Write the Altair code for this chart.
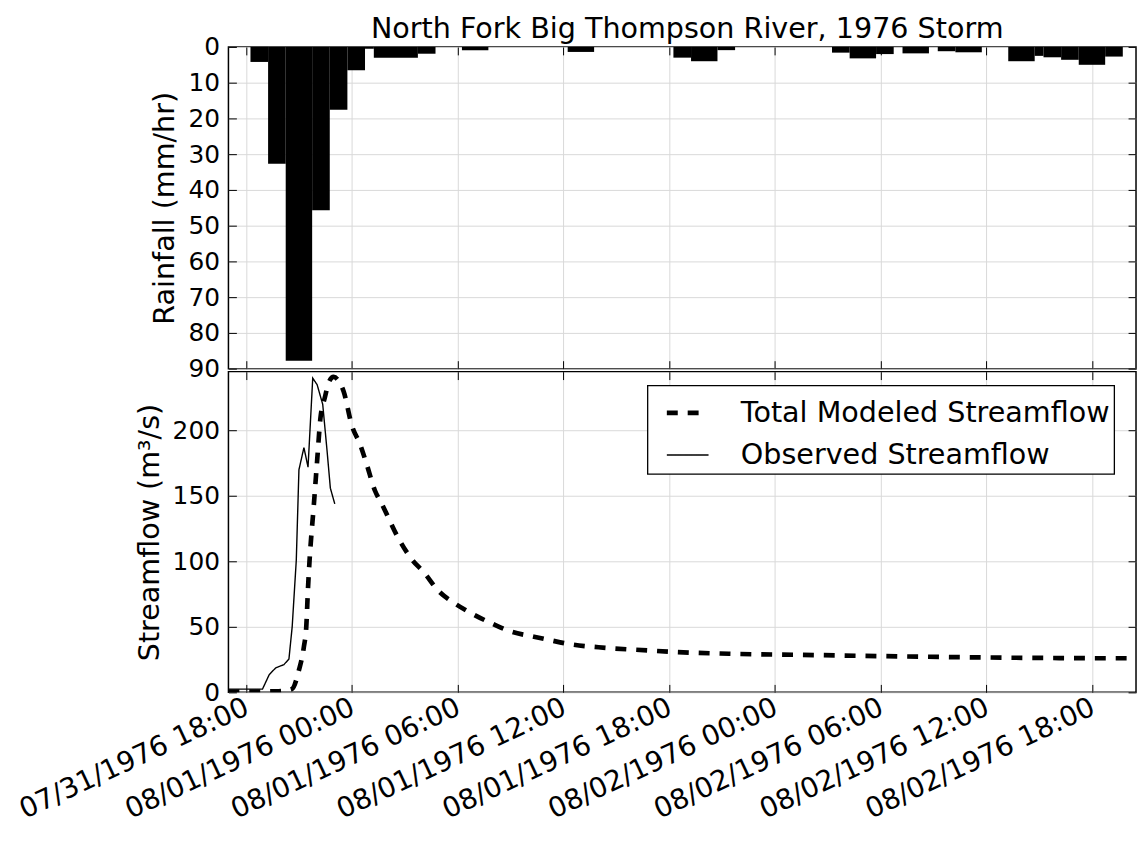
import altair as alt
import pandas as pd

FONT = "DejaVu Sans"
GRID = "#d9d9d9"

TITLE = "North Fork Big Thompson River, 1976 Storm"
SERIES = ["Total Modeled Streamflow", "Observed Streamflow"]

X_START = "1976-07-31T17:00"
X_END = "1976-08-02T20:30"
X_TICKS = ["1976-07-31T18:00", "1976-08-01T00:00", "1976-08-01T06:00",
           "1976-08-01T12:00", "1976-08-01T18:00", "1976-08-02T00:00",
           "1976-08-02T06:00", "1976-08-02T12:00", "1976-08-02T18:00"]
RAIN_TICKS = [0, 10, 20, 30, 40, 50, 60, 70, 80, 90]
FLOW_TICKS = [0, 50, 100, 150, 200]

RAIN_START = ["1976-07-31T18:15", "1976-07-31T19:15", "1976-07-31T20:15", "1976-07-31T21:45",
              "1976-07-31T22:45", "1976-07-31T23:45", "1976-08-01T00:45", "1976-08-01T01:15",
              "1976-08-01T03:45", "1976-08-01T06:15", "1976-08-01T12:15", "1976-08-01T18:15",
              "1976-08-01T19:15", "1976-08-01T20:45", "1976-08-02T03:15", "1976-08-02T04:15",
              "1976-08-02T05:45", "1976-08-02T07:15", "1976-08-02T09:15", "1976-08-02T10:15",
              "1976-08-02T13:15", "1976-08-02T14:45", "1976-08-02T15:15", "1976-08-02T16:15",
              "1976-08-02T17:15", "1976-08-02T18:45"]
RAIN_END = ["1976-07-31T19:15", "1976-07-31T20:15", "1976-07-31T21:45", "1976-07-31T22:45",
            "1976-07-31T23:45", "1976-08-01T00:45", "1976-08-01T01:15", "1976-08-01T03:45",
            "1976-08-01T04:45", "1976-08-01T07:45", "1976-08-01T13:45", "1976-08-01T19:15",
            "1976-08-01T20:45", "1976-08-01T21:45", "1976-08-02T04:15", "1976-08-02T05:45",
            "1976-08-02T06:45", "1976-08-02T08:45", "1976-08-02T10:15", "1976-08-02T11:45",
            "1976-08-02T14:45", "1976-08-02T15:15", "1976-08-02T16:15", "1976-08-02T17:15",
            "1976-08-02T18:45", "1976-08-02T19:45"]
RAIN_MM_HR = [4.2, 32.7, 87.8, 45.7, 17.6, 6.5, 0.5, 3.0, 1.9, 0.9, 1.4, 3.0, 4.0, 0.9,
              1.6, 3.2, 2.0, 1.8, 1.2, 1.5, 4.0, 2.5, 2.9, 3.6, 5.0, 2.7]

MODEL_TIME = ["1976-07-31T17:00", "1976-07-31T19:50", "1976-07-31T20:36", "1976-07-31T21:00",
              "1976-07-31T21:17", "1976-07-31T21:25", "1976-07-31T21:31", "1976-07-31T21:36",
              "1976-07-31T21:51", "1976-07-31T22:02", "1976-07-31T22:13", "1976-07-31T22:28",
              "1976-07-31T22:42", "1976-07-31T22:58", "1976-07-31T23:15", "1976-07-31T23:32",
              "1976-08-01T00:00", "1976-08-01T00:29", "1976-08-01T00:51", "1976-08-01T01:19",
              "1976-08-01T01:42", "1976-08-01T02:38", "1976-08-01T03:23", "1976-08-01T04:08",
              "1976-08-01T04:53", "1976-08-01T05:50", "1976-08-01T06:46", "1976-08-01T07:53",
              "1976-08-01T09:01", "1976-08-01T10:20", "1976-08-01T11:12", "1976-08-01T12:17",
              "1976-08-01T14:25", "1976-08-01T16:50", "1976-08-01T18:03", "1976-08-01T21:24",
              "1976-08-02T02:13", "1976-08-02T06:55", "1976-08-02T11:36", "1976-08-02T16:09",
              "1976-08-02T21:00"]
MODEL_FLOW = [0.5, 0.8, 2.5, 17, 35, 50, 80, 100, 144, 177,
              209, 225, 237, 241, 238, 230, 204, 189, 174, 154,
              144, 118, 102, 91, 78, 68, 60.5, 53, 46.5, 42.5,
              40, 37, 34, 32, 31, 29.5, 28.5, 27.5, 26.7, 26.2, 26]

OBS_TIME = ["1976-07-31T17:00", "1976-07-31T18:56", "1976-07-31T19:19", "1976-07-31T19:41",
            "1976-07-31T20:09", "1976-07-31T20:26", "1976-07-31T20:37", "1976-07-31T20:51",
            "1976-07-31T21:00", "1976-07-31T21:17", "1976-07-31T21:31", "1976-07-31T21:47",
            "1976-07-31T22:02", "1976-07-31T22:21", "1976-07-31T22:36", "1976-07-31T22:47",
            "1976-07-31T23:02"]
OBS_FLOW = [2.5, 2.5, 13.6, 18.7, 21.2, 25.5, 50, 101, 170, 187, 172, 240, 235, 220, 184, 156, 144]


def iso(s):
    return s + ":00Z"


def to_dt(s):
    d, t = s.split("T")
    y, m, dd = d.split("-")
    hh, mm = t.split(":")
    return alt.DateTime(year=int(y), month=int(m), date=int(dd),
                        hours=int(hh), minutes=int(mm), utc=True)


rain_df = pd.DataFrame({"start": [iso(s) for s in RAIN_START],
                        "end": [iso(s) for s in RAIN_END],
                        "rain": RAIN_MM_HR})
model_df = pd.DataFrame({"time": [iso(s) for s in MODEL_TIME], "flow": MODEL_FLOW,
                         "series": SERIES[0]})
obs_df = pd.DataFrame({"time": [iso(s) for s in OBS_TIME], "flow": OBS_FLOW,
                       "series": SERIES[1]})

W = 914
H_TOP = 324
H_BOT = 323

x_scale = alt.Scale(type="utc", domain=[to_dt(X_START), to_dt(X_END)], nice=False)
x_vals = [to_dt(s) for s in X_TICKS]
rain_scale = alt.Scale(domain=[0, 90], reverse=True, nice=False, zero=True)
flow_scale = alt.Scale(domain=[0, 245], nice=False, zero=True)


def bottom_axis(labels):
    kw = dict(orient="bottom", values=x_vals, offset=-8, tickSize=8, tickColor="black",
              tickWidth=1, domain=False, grid=True, gridColor=GRID, gridWidth=1,
              title=None, labels=labels)
    if labels:
        kw.update(labelExpr="utcFormat(datum.value, '%m/%d/%Y %H:%M')", labelAngle=335,
                  labelAlign="right", labelBaseline="top", labelFont=FONT,
                  labelFontSize=28, labelColor="black", labelPadding=1, labelOffset=-5,
                  labelOverlap=False, labelFlush=False, labelBound=False, labelLimit=500)
    return alt.Axis(**kw)


def top_axis(title=None):
    kw = dict(orient="top", values=x_vals, offset=-8, tickSize=8, tickColor="black",
              tickWidth=1, domain=False, grid=False, labels=False, minExtent=0)
    if title:
        kw.update(title=title, titleFont=FONT, titleFontSize=28.8, titleFontWeight="normal",
                  titleColor="black", titleAngle=0, titleAlign="center",
                  titleBaseline="alphabetic", titleX=461.5, titleY=-17.4)
    else:
        kw.update(title=None)
    return alt.Axis(**kw)


def left_axis(vals, title, title_x):
    return alt.Axis(orient="left", values=vals, offset=-8, tickSize=8, tickColor="black",
                    tickWidth=1, domain=False, grid=True, gridColor=GRID, gridWidth=1,
                    labelFont=FONT, labelFontSize=25, labelColor="black", labelPadding=9,
                    labelOverlap=False, labelFlush=False,
                    title=title, titleFont=FONT, titleFontSize=28.8, titleFontWeight="normal",
                    titleColor="black", titleAngle=270, titleBaseline="alphabetic",
                    titleX=title_x)


def right_axis(vals):
    return alt.Axis(orient="right", values=vals, offset=-8, tickSize=8, tickColor="black",
                    tickWidth=1, domain=False, grid=False, labels=False, title=None,
                    minExtent=0)


rain_base = alt.Chart(rain_df)
rain_bars = rain_base.mark_rect(color="black").encode(
    x=alt.X("start:T", scale=x_scale, axis=bottom_axis(False)),
    x2="end:T",
    y=alt.Y("rain:Q", scale=rain_scale, axis=left_axis(RAIN_TICKS, "Rainfall (mm/hr)", -63)),
    y2=alt.datum(0),
)
rain_ghost = rain_base.mark_rect(opacity=0).encode(
    x=alt.X("start:T", scale=x_scale, axis=top_axis(TITLE)),
    x2="end:T",
    y=alt.Y("rain:Q", scale=rain_scale, axis=right_axis(RAIN_TICKS)),
    y2=alt.datum(0),
)
top = alt.layer(rain_bars, rain_ghost).resolve_axis(
    x="independent", y="independent"
).properties(width=W, height=H_TOP)

dash_scale = alt.Scale(domain=SERIES, range=[[11, 10], [1, 0]])
width_scale = alt.Scale(domain=SERIES, range=[4.7, 1.4])
leg = alt.Legend(title=None, orient="none", legendX=422, legendY=14, symbolType="stroke",
                 symbolSize=1764, symbolStrokeColor="black", labelFont=FONT,
                 labelFontSize=28.8, labelColor="black", labelLimit=800, labelOffset=30,
                 labelExpr="datum.label + ' '",
                 symbolOffset=13, padding=4, rowPadding=5, fillColor="white",
                 strokeColor="black")

model_line = alt.Chart(model_df).mark_line(color="black", interpolate="monotone", clip=True).encode(
    x=alt.X("time:T", scale=x_scale, axis=bottom_axis(True)),
    y=alt.Y("flow:Q", scale=flow_scale,
            axis=left_axis(FLOW_TICKS, "Streamflow (m³/s)", -78)),
    strokeDash=alt.StrokeDash("series:N", scale=dash_scale, legend=leg),
    strokeWidth=alt.StrokeWidth("series:N", scale=width_scale, legend=leg),
)
obs_line = alt.Chart(obs_df).mark_line(color="black").encode(
    x=alt.X("time:T", scale=x_scale, axis=top_axis()),
    y=alt.Y("flow:Q", scale=flow_scale, axis=right_axis(FLOW_TICKS)),
    strokeDash=alt.StrokeDash("series:N", scale=dash_scale, legend=leg),
    strokeWidth=alt.StrokeWidth("series:N", scale=width_scale, legend=leg),
)
bottom = alt.layer(model_line, obs_line).resolve_axis(
    x="independent", y="independent"
).properties(width=W, height=H_BOT)

chart = alt.vconcat(top, bottom, spacing=3, bounds="flush").resolve_scale(
    strokeDash="independent", strokeWidth="independent"
).properties(
    padding={"left": 6, "top": 2.3, "right": 0, "bottom": 0},
    background="white",
).configure_view(
    stroke="black", strokeWidth=1.5
).configure_legend(
    strokeWidth=1.3
)

chart.save("out.html", embed_options={"renderer": "svg", "actions": False})
